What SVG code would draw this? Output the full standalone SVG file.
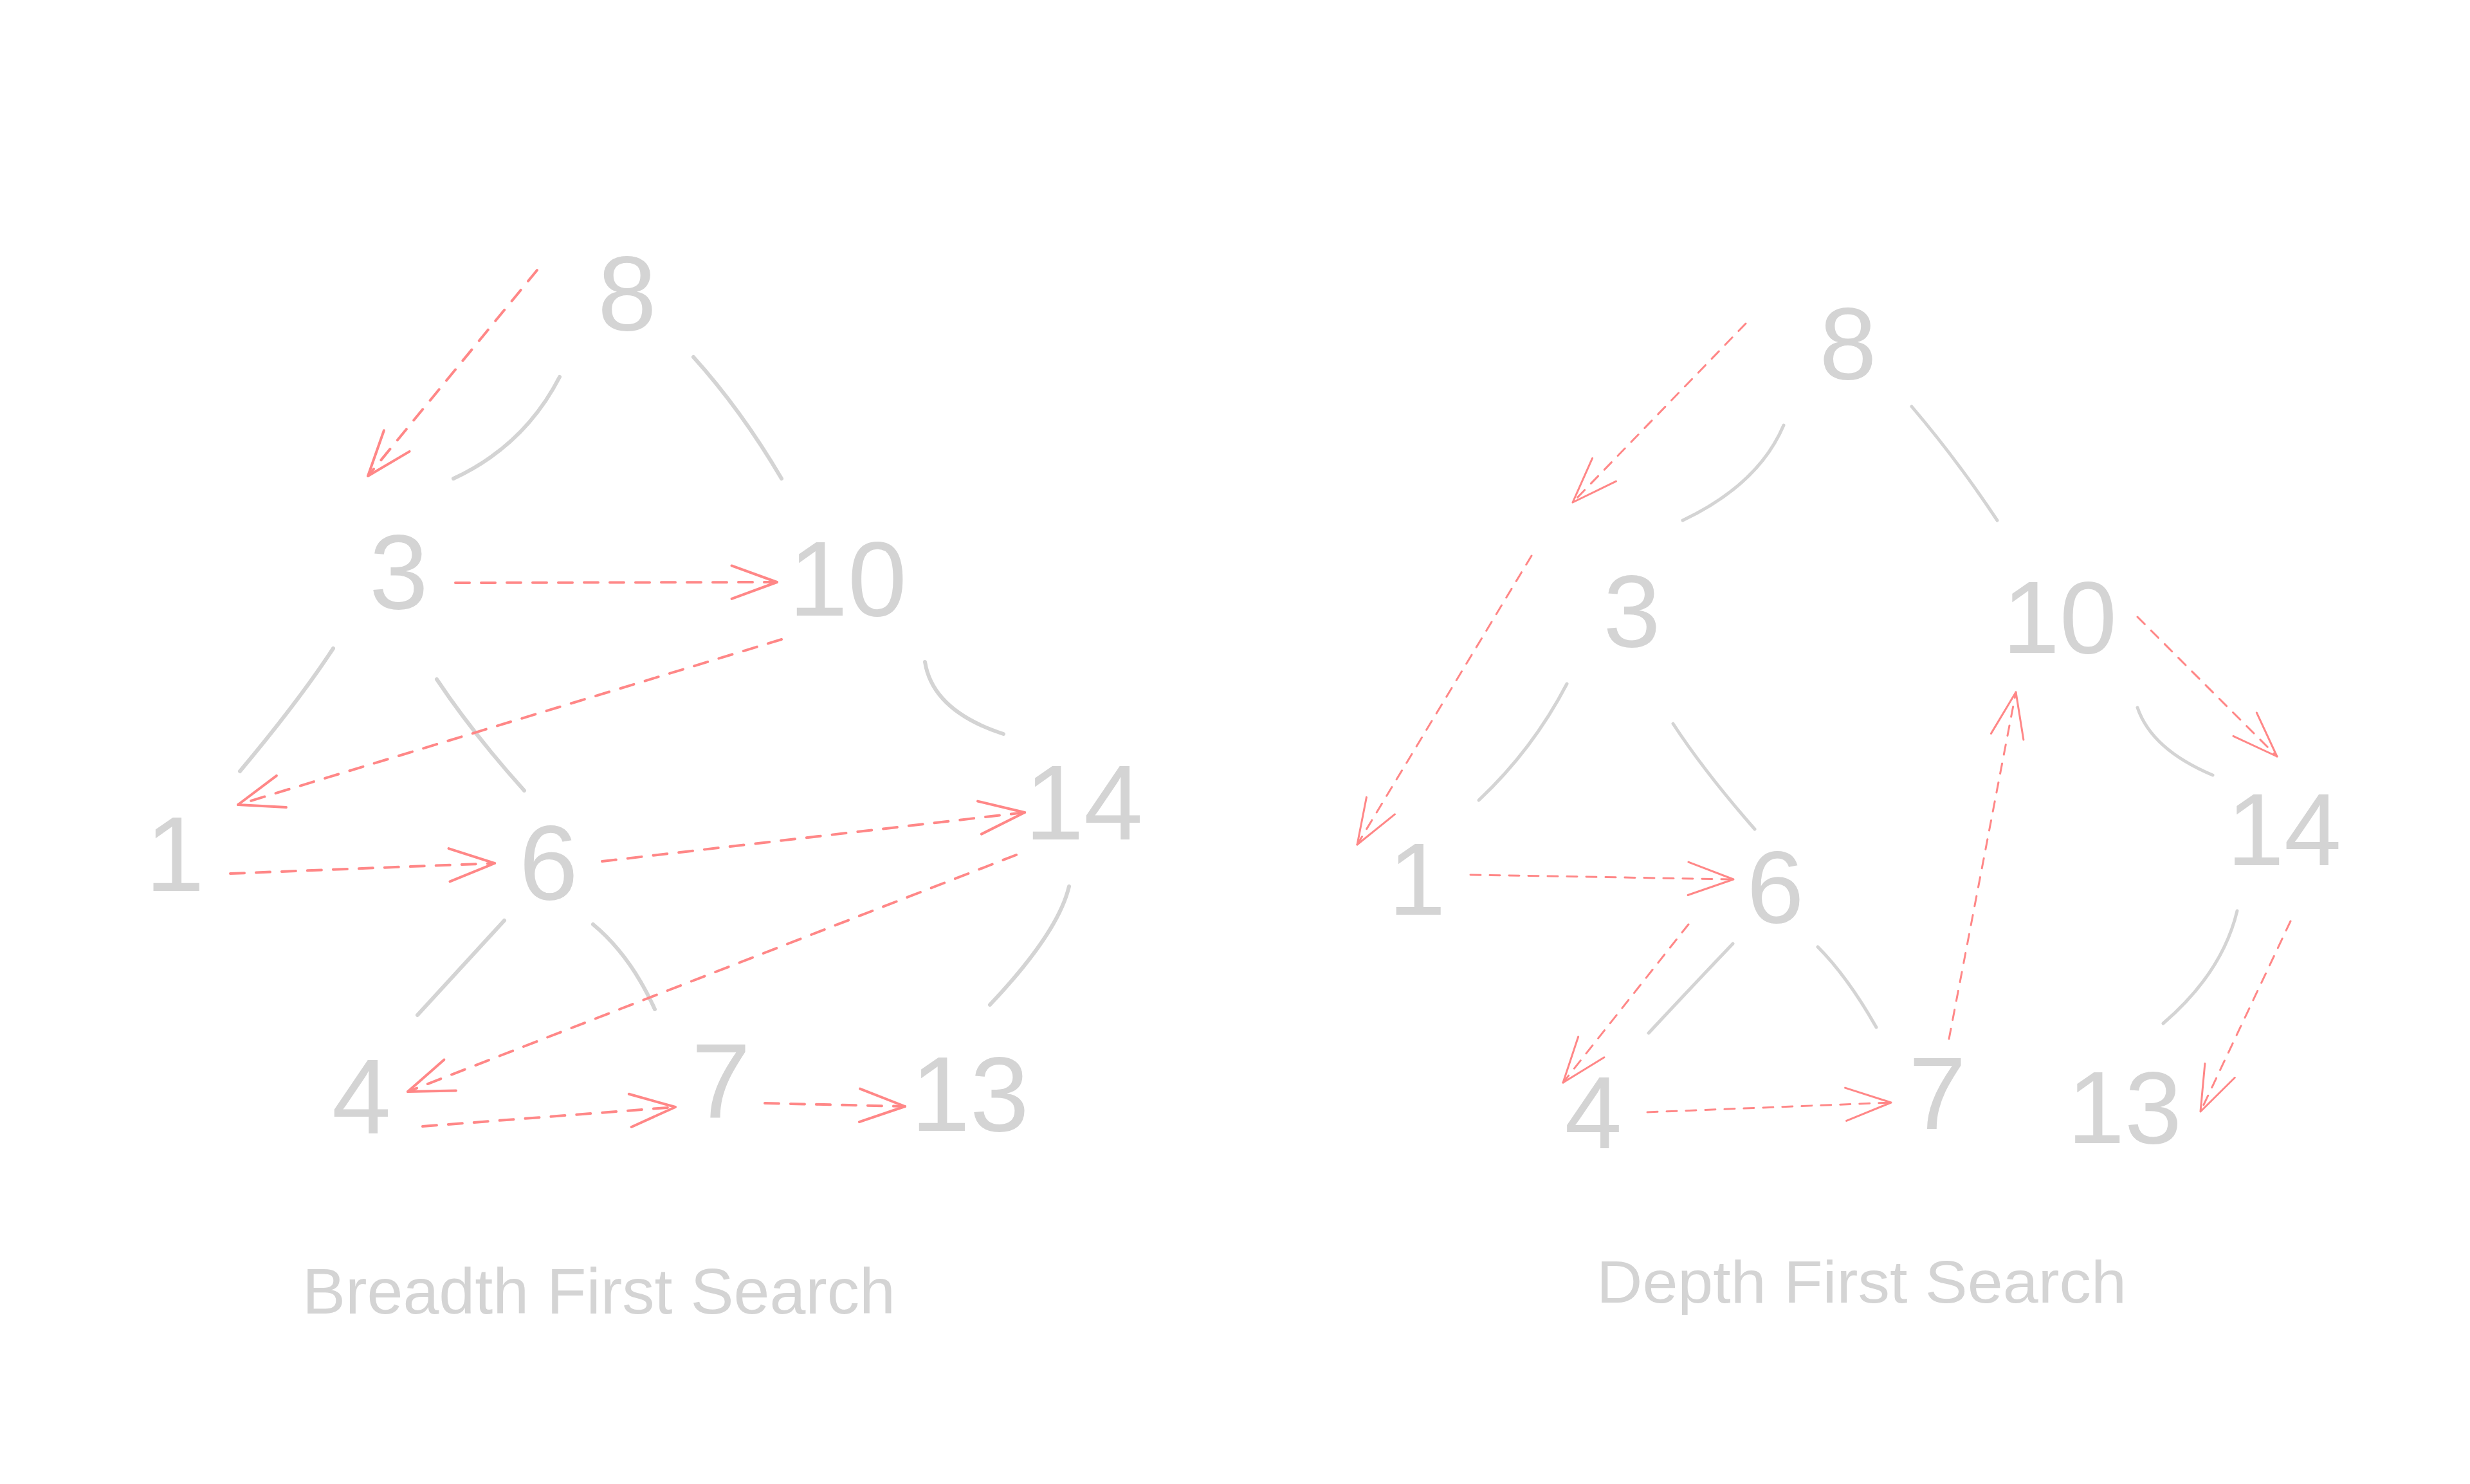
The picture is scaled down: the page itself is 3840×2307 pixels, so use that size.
<svg xmlns="http://www.w3.org/2000/svg" width="3840" height="2307" viewBox="0 0 3840 2307">
<style>
.num{font-family:"Liberation Sans","Noto Sans",sans-serif;fill:#d4d4d4;text-anchor:middle}
.numL{font-size:165px}
.numR{font-size:160px}
.lbl{font-family:"Liberation Sans","Noto Sans",sans-serif;fill:#d4d4d4;text-anchor:middle}
.edge{fill:none;stroke:#d4d4d4;stroke-linecap:round}
.edgeL{stroke-width:6}
.edgeR{stroke-width:5}
.arr{fill:none;stroke:#ff8787;stroke-linecap:round}
.arrL{stroke-width:4;stroke-dasharray:22 18;marker-end:url(#ahL)}
.arrR{stroke-width:3;stroke-dasharray:16 14;marker-end:url(#ahR)}
</style>
<defs>
<marker id="ahL" markerUnits="userSpaceOnUse" viewBox="-100 -100 200 200" markerWidth="200" markerHeight="200" refX="0" refY="0" orient="auto" overflow="visible">
<path d="M -70.5 -25.7 L 0 0 L -70.5 25.7" fill="none" stroke="#ff8787" stroke-width="4" stroke-linecap="round" stroke-linejoin="round"/>
</marker>
<marker id="ahR" markerUnits="userSpaceOnUse" viewBox="-100 -100 200 200" markerWidth="200" markerHeight="200" refX="0" refY="0" orient="auto" overflow="visible">
<path d="M -70.5 -25.7 L 0 0 L -70.5 25.7" fill="none" stroke="#ff8787" stroke-width="3" stroke-linecap="round" stroke-linejoin="round"/>
</marker>
</defs>
<rect x="0" y="0" width="3840" height="2307" fill="#ffffff"/>

<g id="connectors">
<!-- left tree edges -->
<path class="edge edgeL" d="M 870 586 Q 815 693 705 744"/>
<path class="edge edgeL" d="M 1078 555 Q 1152 637 1215 744"/>
<path class="edge edgeL" d="M 518 1008 Q 465 1089 373 1199"/>
<path class="edge edgeL" d="M 679 1056 Q 735 1140 815 1229"/>
<path class="edge edgeL" d="M 1438 1029 Q 1450 1105 1560 1141"/>
<path class="edge edgeL" d="M 784 1431 Q 724 1496 649 1578"/>
<path class="edge edgeL" d="M 922 1437 Q 980 1485 1018 1569"/>
<path class="edge edgeL" d="M 1662 1378 Q 1645 1450 1539 1562"/>
<!-- right tree edges -->
<path class="edge edgeR" d="M 2773 661 Q 2734 753 2616 809"/>
<path class="edge edgeR" d="M 2972 632 Q 3042 714 3105 809"/>
<path class="edge edgeR" d="M 2436 1063 Q 2383 1165 2299 1244"/>
<path class="edge edgeR" d="M 2601 1125 Q 2650 1200 2728 1289"/>
<path class="edge edgeR" d="M 3323 1100 Q 3345 1165 3440 1205"/>
<path class="edge edgeR" d="M 2694 1467 Q 2632 1532 2563 1606"/>
<path class="edge edgeR" d="M 2826 1472 Q 2872 1518 2917 1597"/>
<path class="edge edgeR" d="M 3478 1416 Q 3455 1512 3363 1591"/>
<!-- BFS order arrows -->
<path class="arr arrL" d="M 835 420 L 572 740"/>
<path class="arr arrL" d="M 708 906 L 1208 905"/>
<path class="arr arrL" d="M 1215 994 L 370 1251"/>
<path class="arr arrL" d="M 358 1358 L 769 1342"/>
<path class="arr arrL" d="M 936 1339 L 1593 1263"/>
<path class="arr arrL" d="M 1580 1329 L 634 1697"/>
<path class="arr arrL" d="M 657 1751 L 1050 1721"/>
<path class="arr arrL" d="M 1189 1715 L 1407 1720"/>
<!-- DFS order arrows -->
<path class="arr arrR" d="M 2714 503 L 2445 781"/>
<path class="arr arrR" d="M 2381 864 L 2110 1313"/>
<path class="arr arrR" d="M 2286 1360 L 2695 1367"/>
<path class="arr arrR" d="M 2625 1437 L 2430 1683"/>
<path class="arr arrR" d="M 2561 1729 L 2940 1714"/>
<path class="arr arrR" d="M 3030 1615 L 3134 1076"/>
<path class="arr arrR" d="M 3323 959 L 3540 1176"/>
<path class="arr arrR" d="M 3561 1432 L 3421 1728"/>
</g>

<g id="bfs-8"><text class="num numL" x="975" y="513">8</text></g>
<g id="bfs-3"><text class="num numL" x="620" y="946">3</text></g>
<g id="bfs-10"><text class="num numL" x="1318" y="957">10</text></g>
<g id="bfs-1"><text class="num numL" x="272" y="1385">1</text></g>
<g id="bfs-6"><text class="num numL" x="853" y="1398">6</text></g>
<g id="bfs-14"><text class="num numL" x="1685" y="1305">14</text></g>
<g id="bfs-4"><text class="num numL" x="562" y="1762">4</text></g>
<g id="bfs-7"><text class="num numL" x="1121" y="1737">7</text></g>
<g id="bfs-13"><text class="num numL" x="1508" y="1758">13</text></g>
<g id="bfs-label"><text class="lbl" x="931" y="2042" font-size="100" textLength="922" lengthAdjust="spacingAndGlyphs">Breadth First Search</text></g>

<g id="dfs-8"><text class="num numR" x="2873" y="589">8</text></g>
<g id="dfs-3"><text class="num numR" x="2537" y="1005">3</text></g>
<g id="dfs-10"><text class="num numR" x="3202" y="1015">10</text></g>
<g id="dfs-1"><text class="num numR" x="2203" y="1422">1</text></g>
<g id="dfs-6"><text class="num numR" x="2760" y="1434">6</text></g>
<g id="dfs-14"><text class="num numR" x="3551" y="1345">14</text></g>
<g id="dfs-4"><text class="num numR" x="2477" y="1785">4</text></g>
<g id="dfs-7"><text class="num numR" x="3012" y="1755">7</text></g>
<g id="dfs-13"><text class="num numR" x="3303" y="1777">13</text></g>
<g id="dfs-label"><text class="lbl" x="2894" y="2025" font-size="92" textLength="824" lengthAdjust="spacingAndGlyphs">Depth First Search</text></g>
</svg>
